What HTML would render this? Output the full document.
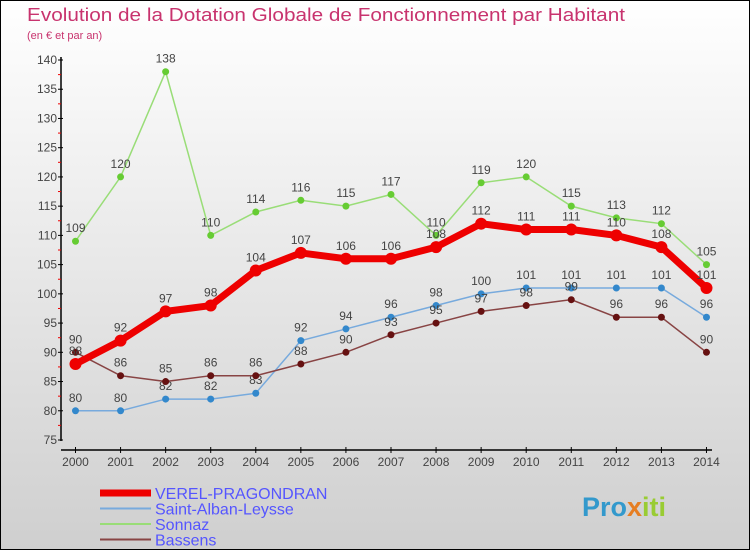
<!DOCTYPE html>
<html><head><meta charset="utf-8"><style>
body{margin:0;width:750px;height:550px;overflow:hidden}
svg{display:block;font-family:"Liberation Sans",sans-serif}
</style></head><body>
<svg width="750" height="550">
<defs><linearGradient id="bg" x1="0" y1="0" x2="0" y2="1"><stop offset="0" stop-color="#ffffff"/><stop offset="1" stop-color="#cfcfcf"/></linearGradient></defs>
<rect x="0.5" y="0.5" width="749" height="549" fill="url(#bg)" stroke="#000"/>
<text x="27" y="21" font-size="18" fill="#c8336e" textLength="598" lengthAdjust="spacingAndGlyphs">Evolution de la Dotation Globale de Fonctionnement par Habitant</text>
<text x="27" y="39" font-size="11" fill="#c8336e">(en € et par an)</text>
<g id="axes"></g><g id="series"></g><g id="legend"></g>
<text x="582" y="516" font-size="27" font-weight="bold" fill="#3399cc">Pro<tspan fill="#e67e22">x</tspan><tspan fill="#99cc33">iti</tspan></text>
</svg>
<script>
const years=[2000,2001,2002,2003,2004,2005,2006,2007,2008,2009,2010,2011,2012,2013,2014];
const verel=[88,92,97,98,104,107,106,106,108,112,111,111,110,108,101];
const stAlban=[80,80,82,82,83,92,94,96,98,100,101,101,101,101,96];
const sonnaz=[109,120,138,110,114,116,115,117,110,119,120,115,113,112,105];
const bassens=[90,86,85,86,86,88,90,93,95,97,98,99,96,96,90];
const yTicks=[75,80,85,90,95,100,105,110,115,120,125,130,135,140];
const NS='http://www.w3.org/2000/svg';
const X=i=>75.5+i*45.07, Y=v=>440-(v-75)*(380/65);
function mk(t,a,p){const e=document.createElementNS(NS,t);for(const k in a)e.setAttribute(k,a[k]);p.appendChild(e);return e;}
const ax=document.getElementById('axes');
let e=mk('line',{x1:61,y1:57,x2:61,y2:441,stroke:'#000','stroke-width':1.5},ax);

e=mk('line',{x1:61,y1:450,x2:712,y2:450,stroke:'#000','stroke-width':1.5},ax);

yTicks.forEach(v=>{mk('line',{x1:58,y1:Y(v),x2:63,y2:Y(v),stroke:'#000'},ax);
 if(v<140)mk('line',{x1:58,y1:Y(v+2.5),x2:61,y2:Y(v+2.5),stroke:'#e00'},ax);
 const t=mk('text',{x:57,y:Y(v)+4,'font-size':12,fill:'#444','text-anchor':'end'},ax);t.textContent=v;
 });
years.forEach((y,i)=>{mk('line',{x1:X(i),y1:447,x2:X(i),y2:453,stroke:'#000'},ax);
 const t=mk('text',{x:X(i),y:466,'font-size':12,fill:'#444','text-anchor':'middle'},ax);t.textContent=y;
 });
const sg=document.getElementById('series');
const defs=[['sonnaz',sonnaz,'#99dd77','#66cc33',1.5,3.5],['st-alban',stAlban,'#77aadd','#3388cc',1.5,3.5],['bassens',bassens,'#884444','#661111',1.5,3.5],['verel',verel,'#ee0000','#ee0000',7,6]];
defs.forEach(([n,d,lc,pc,w,r])=>{
 const g=mk('g',{},sg);
 mk('polyline',{points:d.map((v,i)=>X(i)+','+Y(v)).join(' '),fill:'none',stroke:lc,'stroke-width':w},g);
 d.forEach((v,i)=>{const c=mk('circle',{cx:X(i),cy:Y(v),r:r,fill:pc},g);
  
  const t=mk('text',{x:X(i),y:Y(v)-9,'font-size':12,fill:'#444','text-anchor':'middle'},g);t.textContent=v;
  });
});
const lg=document.getElementById('legend');
[['VEREL-PRAGONDRAN','#ee0000',7],['Saint-Alban-Leysse','#77aadd',2],['Sonnaz','#99dd77',2],['Bassens','#884444',2]].forEach(([n,c,w],i)=>{
 const y=493+i*15.5;
 const g=mk('g',{},lg);
 mk('line',{x1:100,y1:y,x2:151,y2:y,stroke:c,'stroke-width':w},g);
 const t=mk('text',{x:155,y:y+6,'font-size':16,fill:'#5555ff'},g);t.textContent=n;
});
</script>
</body></html>
